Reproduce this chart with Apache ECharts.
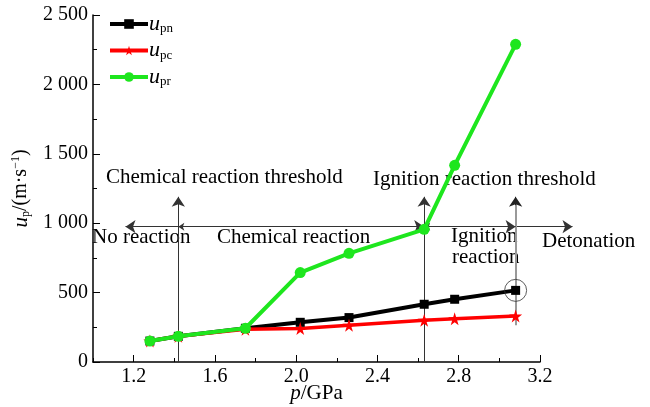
<!DOCTYPE html>
<html lang="en">
<head>
<meta charset="UTF-8">
<title>u_p vs p</title>
<script src="https://cdn.jsdelivr.net/npm/echarts@6/dist/echarts.min.js"></script>
<style>
  html, body { margin: 0; padding: 0; background: #fff; }
  #main { width: 650px; height: 407px; }
</style>
</head>
<body>
<div id="main"></div>
<script>
// pressure p (GPa) and particle velocity u_p (m/s)
var pressure = [1.28, 1.42, 1.75, 2.02, 2.26, 2.63, 2.78, 3.08];
var upn = [151, 185, 243, 286, 320, 416, 452, 516];
var upc = [151, 185, 236, 241, 264, 300, 312, 331];
var upr = [151, 185, 243, 644, 783, 956, 1417, 2289];
var xLabels = [1.2, 1.6, 2.0, 2.4, 2.8, 3.2];

// threshold pressures and the level of the arrows
var chemP = 1.42, ignP = 2.63, detP = 3.08;
var arrowLevel = 975, arrowTop = 1190;

var SERIF = '"Liberation Serif", "Times New Roman", serif';
var STAR = 'path://M50,0 L61,35 L98,35 L68,57 L79,91 L50,70 L21,91 L32,57 L2,35 L39,35 Z';

function pairs(ys) {
  return pressure.map(function (p, i) { return [p, ys[i]]; });
}

var chart = echarts.init(document.getElementById('main'));

var subRich = {
  u: { fontFamily: SERIF, fontStyle: 'italic', fontSize: 22, color: '#000' },
  s: { fontFamily: SERIF, fontSize: 13, color: '#000', padding: [10, 0, 0, 0] }
};
var annFont = '21px ' + SERIF;

chart.setOption({
  animation: false,
  grid: { left: 93, right: 110, top: 15, bottom: 45, outerBoundsMode: 'none' },
  legend: {
    orient: 'vertical',
    left: 103,
    top: 8,
    itemWidth: 38,
    itemHeight: 12,
    itemGap: 4,
    data: ['pn', 'pc', 'pr'],
    lineStyle: { width: 4 },
    formatter: function (name) { return '{u|u}{s|' + name + '}'; },
    textStyle: { rich: subRich, padding: [0, 0, 0, -4] }
  },
  xAxis: [{
    type: 'value', min: 1.0, max: 3.2, interval: 0.2,
    axisLine: { lineStyle: { color: '#000', width: 1.5 } },
    axisTick: { inside: true, length: 4, lineStyle: { color: '#000' } },
    axisLabel: { show: false },
    splitLine: { show: false }
  }, {
    type: 'value', min: 1.0, max: 3.2, interval: 0.2, position: 'bottom',
    axisLine: { show: false },
    axisTick: { inside: true, length: 7, customValues: xLabels, lineStyle: { color: '#000' } },
    axisLabel: {
      customValues: xLabels, margin: 5,
      fontFamily: SERIF, fontSize: 20, color: '#000',
      formatter: function (v) { return v.toFixed(1); }
    },
    splitLine: { show: false },
    name: '{i|p}{t|/GPa}', nameLocation: 'middle', nameGap: 21, nameMoveOverlap: false,
    nameTextStyle: {
      rich: {
        i: { fontFamily: SERIF, fontStyle: 'italic', fontSize: 21, color: '#000' },
        t: { fontFamily: SERIF, fontSize: 21, color: '#000' }
      }
    }
  }],
  yAxis: {
    type: 'value', min: 0, max: 2500, interval: 500,
    axisLine: { show: true, lineStyle: { color: '#000', width: 1.5 } },
    axisTick: { show: true, inside: true, length: 7, lineStyle: { color: '#000' } },
    minorTick: { show: true, splitNumber: 2, length: 4, lineStyle: { color: '#000' } },
    axisLabel: {
      margin: 5, fontFamily: SERIF, fontSize: 20, color: '#000',
      formatter: function (v) {
        return v >= 1000 ? Math.floor(v / 1000) + ' ' + String(v % 1000).padStart(3, '0') : String(v);
      }
    },
    splitLine: { show: false },
    name: '{i|u}{s|p}{t|/(m\u00b7s}{p|\u22121}{t|)}', nameLocation: 'middle', nameGap: 55,
    nameTextStyle: {
      rich: {
        i: { fontFamily: SERIF, fontStyle: 'italic', fontSize: 21, color: '#000' },
        s: { fontFamily: SERIF, fontSize: 12, color: '#000', padding: [10, 0, 0, 0] },
        t: { fontFamily: SERIF, fontSize: 20, color: '#000' },
        p: { fontFamily: SERIF, fontSize: 12, color: '#000', padding: [0, 0, 10, 0] }
      }
    }
  },
  series: [
    {
      type: 'lines', coordinateSystem: 'cartesian2d', clip: false, silent: true, z: 1,
      symbol: ['none', 'arrow'], symbolSize: [6, 10],
      lineStyle: { color: '#333', width: 1, opacity: 1 },
      data: [
        { coords: [[chemP, 0], [chemP, arrowTop]] },
        { coords: [[ignP, 0], [ignP, arrowTop]] },
        { coords: [[chemP, arrowLevel], [1.16, arrowLevel]] },
        { coords: [[detP, arrowLevel], [3.36, arrowLevel]] }
      ]
    },
    {
      type: 'lines', coordinateSystem: 'cartesian2d', clip: false, silent: true, z: 1,
      symbol: ['none', 'none'],
      lineStyle: { color: '#999', width: 2, opacity: 1 },
      data: [{ coords: [[detP, 265], [detP, arrowTop - 40]] }]
    },
    {
      type: 'lines', coordinateSystem: 'cartesian2d', clip: false, silent: true, z: 1,
      symbol: ['none', 'arrow'], symbolSize: [6, 10],
      lineStyle: { color: '#222', width: 1, opacity: 1 },
      data: [{ coords: [[detP, arrowTop - 60], [detP, arrowTop]] }]
    },
    {
      type: 'lines', coordinateSystem: 'cartesian2d', clip: false, silent: true, z: 1,
      symbol: ['arrow', 'arrow'], symbolSize: [6, 10],
      lineStyle: { color: '#333', width: 1, opacity: 1 },
      data: [
        { coords: [[chemP, arrowLevel], [ignP, arrowLevel]] },
        { coords: [[ignP, arrowLevel], [detP, arrowLevel]] }
      ]
    },
    {
      name: 'pn', type: 'line', data: pairs(upn), z: 3,
      symbol: 'rect', symbolSize: 9,
      lineStyle: { color: '#000', width: 4 }, itemStyle: { color: '#000' }
    },
    {
      name: 'pc', type: 'line', data: pairs(upc), z: 3,
      symbol: STAR, symbolSize: 13,
      lineStyle: { color: '#f00', width: 3.5 }, itemStyle: { color: '#f00' }
    },
    {
      name: 'pr', type: 'line', data: pairs(upr), z: 4,
      symbol: 'circle', symbolSize: 11,
      lineStyle: { color: '#1ee61e', width: 4 }, itemStyle: { color: '#1ee61e' }
    },
    {
      type: 'scatter', silent: true, z: 5, clip: false,
      data: [[detP, upn[upn.length - 1]]],
      symbol: 'circle', symbolSize: 22,
      itemStyle: { color: 'transparent', borderColor: '#333', borderWidth: 1 }
    }
  ],
  graphic: [
    { type: 'text', left: 106, top: 167, style: { text: 'Chemical reaction threshold', font: annFont, fill: '#000' } },
    { type: 'text', left: 373, top: 169, style: { text: 'Ignition reaction threshold', font: annFont, fill: '#000' } },
    { type: 'text', left: 92, top: 227, style: { text: 'No reaction', font: annFont, fill: '#000' } },
    { type: 'text', left: 217, top: 227, style: { text: 'Chemical reaction', font: annFont, fill: '#000' } },
    { type: 'text', left: 451, top: 226, style: { text: 'Ignition', font: annFont, fill: '#000' } },
    { type: 'text', left: 452, top: 247, style: { text: 'reaction', font: annFont, fill: '#000' } },
    { type: 'text', left: 542, top: 231, style: { text: 'Detonation', font: annFont, fill: '#000' } }
  ]
});
</script>
</body>
</html>
